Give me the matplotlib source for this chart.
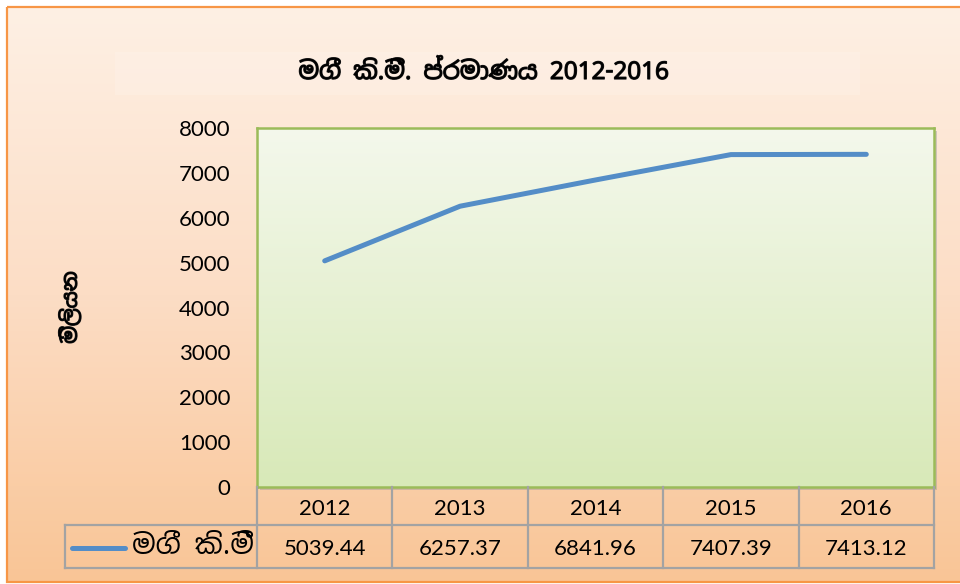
import numpy as np
import matplotlib
matplotlib.use('Agg')
import matplotlib.pyplot as plt
from matplotlib.patches import Rectangle
from matplotlib.colors import LinearSegmentedColormap
import matplotlib.transforms as mtransforms
import matplotlib.patheffects as pe

# data
years = ['2012', '2013', '2014', '2015', '2016']
values = [5039.44, 6257.37, 6841.96, 7407.39, 7413.12]
series_name = 'මගී කි.මී'
title = 'මගී කි.මී. ප්රමාණය 2012-2016'
y_label = 'මිලියන'
y_ticks = [0, 1000, 2000, 3000, 4000, 5000, 6000, 7000, 8000]

sinhala = ['Noto Sans Sinhala', 'DejaVu Sans']
num_font = ['Lato', 'DejaVu Sans']
line_col = '#548DC7'
grid_col = '#A3A3A3'
bold = [pe.withStroke(linewidth=0.9, foreground='#1a1a1a')]

fig = plt.figure(figsize=(9.6, 5.84), dpi=100)
fig.patch.set_facecolor('white')

# background (pixel coords)
bg = fig.add_axes([0, 0, 1, 1], zorder=0)
bg.set_xlim(0, 960)
bg.set_ylim(584, 0)
bg.axis('off')
bg_cmap = LinearSegmentedColormap.from_list('bg', ['#FEF0E4', '#FCDDC5', '#F9C596'])
grad = np.linspace(0, 1, 256).reshape(-1, 1)
bg.imshow(grad, cmap=bg_cmap, aspect='auto', extent=[8, 960, 582, 8], zorder=0)
bg.add_patch(Rectangle((7, 7), 970, 575, fill=False, ec='#F79646', lw=1.6, zorder=2))
# lighter band behind title
bg.add_patch(Rectangle((115, 52), 745, 43, fc='white', alpha=0.15, lw=0, zorder=1))

# plot area
ax = fig.add_axes([257 / 960, 1 - 487 / 584, 677 / 960, 359 / 584], zorder=2)
ax.set_xlim(-0.5, len(years) - 0.5)
ax.set_ylim(0, 8000)

pa_cmap = LinearSegmentedColormap.from_list('pa', ['#D8E9B8', '#F4F8EC'])
ax.imshow(grad, cmap=pa_cmap, aspect='auto', origin='lower',
          extent=[-0.5, len(years) - 0.5, 0, 8000], zorder=0)

# shadow of plot area
shadow = mtransforms.offset_copy(ax.transAxes, fig=fig, x=3, y=-3, units='dots')
ax.add_patch(Rectangle((0, 0), 1, 1, transform=shadow, fc='#9A9A9A', alpha=0.45,
                       lw=0, clip_on=False, zorder=-1))

x = np.arange(len(years))
ax.plot(x, values, color=line_col, lw=3.6, solid_capstyle='round',
        solid_joinstyle='round', zorder=3)

for s in ax.spines.values():
    s.set_color('#9BBB59')
    s.set_linewidth(1.8)
    s.set_zorder(4)

ax.set_yticks(y_ticks)
ax.set_yticklabels([str(t) for t in y_ticks], fontsize=16, family=num_font)
ax.tick_params(axis='y', length=0, pad=19)
ax.set_xticks([])

ax.set_ylabel(y_label, family=sinhala, fontsize=15, labelpad=70,
              path_effects=bold)

fig.text(484 / 960, 1 - 73 / 584, title, ha='center', va='center',
         family=sinhala, fontsize=17.5, path_effects=bold)

# data table below the plot
row1 = (487 - 525) / 359
row2 = (487 - 568) / 359
left = (65 - 257) / 677 * len(years) - 0.5
tb = mtransforms.blended_transform_factory(ax.transData, ax.transAxes)
kw = dict(transform=tb, color=grid_col, lw=1.6, clip_on=False, zorder=5)
for i in range(len(years) + 1):
    ax.plot([i - 0.5, i - 0.5], [0, row2], **kw)
ax.plot([left, len(years) - 0.5], [row1, row1], **kw)
ax.plot([left, len(years) - 0.5], [row2, row2], **kw)
ax.plot([left, left], [row1, row2], **kw)

for i, (yr, v) in enumerate(zip(years, values)):
    ax.text(i, row1 / 2 - 0.008, yr, transform=tb, ha='center', va='center',
            fontsize=16, family=num_font)
    ax.text(i, (row1 + row2) / 2 - 0.008, '%.2f' % v, transform=tb, ha='center',
            va='center', fontsize=16, family=num_font)

# legend key in the table
lx = left + 7 / 135.4
ax.plot([lx, lx + 53 / 135.4], [(row1 + row2) / 2 - 0.003] * 2, transform=tb,
        color=line_col, lw=3.6, solid_capstyle='round', clip_on=False, zorder=5)
ax.text(lx + 60 / 135.4, (row1 + row2) / 2, series_name, transform=tb,
        ha='left', va='center', fontsize=20, family=sinhala)

fig.savefig('out.png', dpi=100)
